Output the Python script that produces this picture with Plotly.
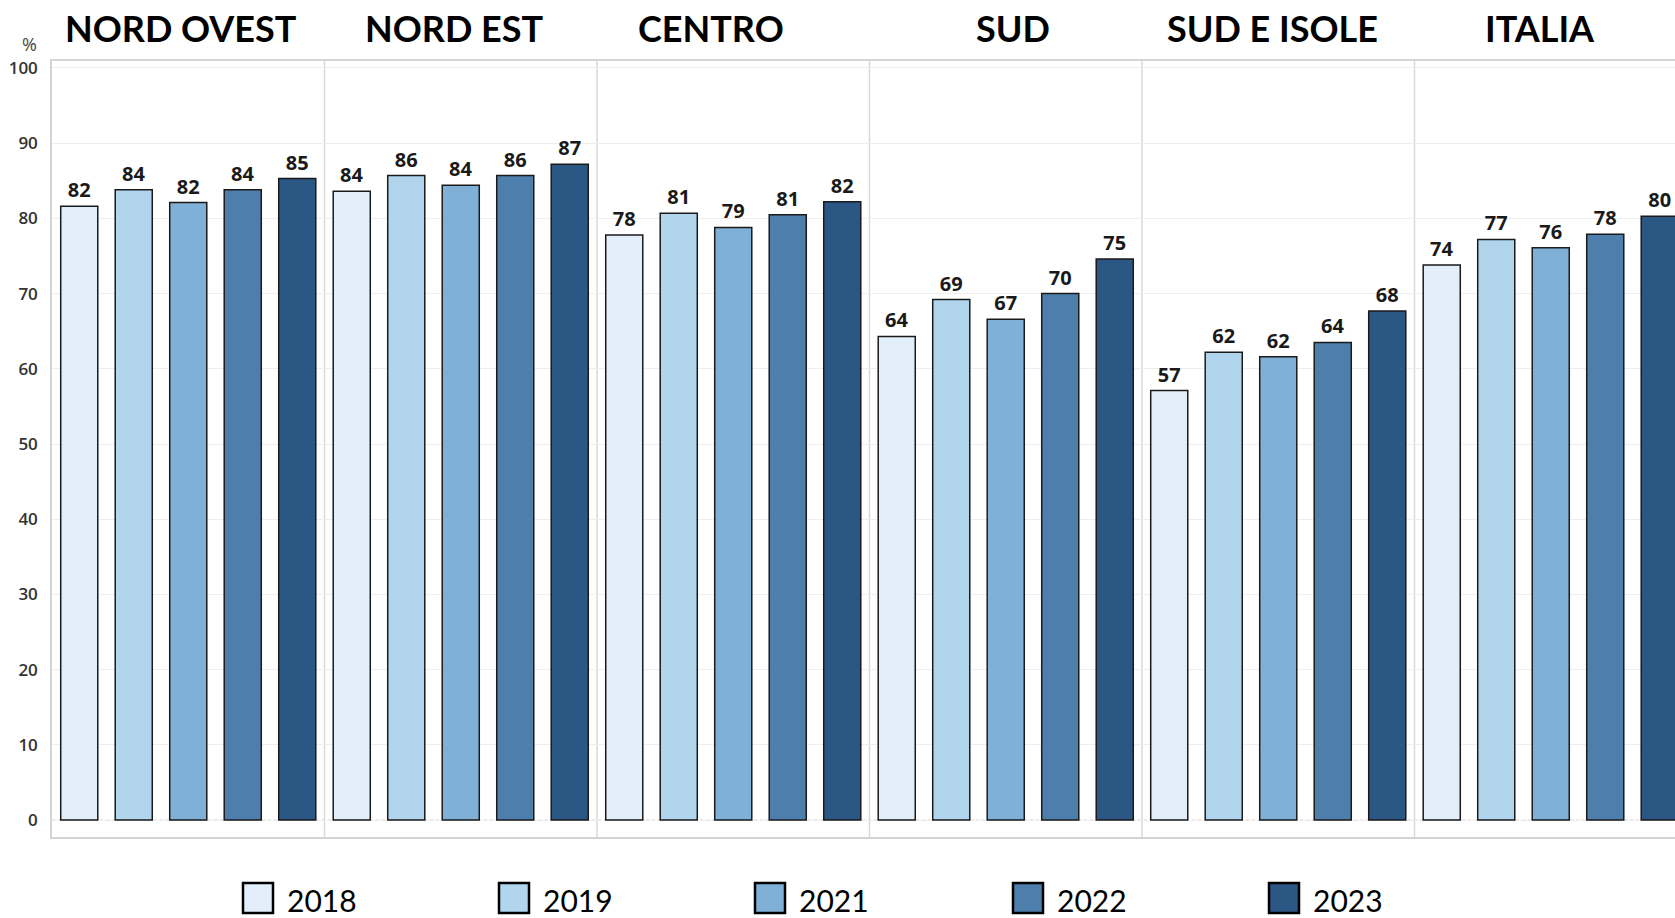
import plotly.graph_objects as go

# ---- data ----
regions = ["NORD OVEST", "NORD EST", "CENTRO", "SUD", "SUD E ISOLE", "ITALIA"]
years = ["2018", "2019", "2021", "2022", "2023"]
v2018 = [81.6, 83.6, 77.8, 64.3, 57.1, 73.8]
v2019 = [83.8, 85.7, 80.7, 69.2, 62.2, 77.2]
v2021 = [82.1, 84.4, 78.8, 66.6, 61.6, 76.1]
v2022 = [83.8, 85.7, 80.5, 70.0, 63.5, 77.9]
v2023 = [85.3, 87.2, 82.2, 74.6, 67.7, 80.3]
series = [v2018, v2019, v2021, v2022, v2023]
y_ticks = list(range(0, 101, 10))

colors = ["#e2effb", "#b0d5ec", "#80b0d6", "#4e7eac", "#2b5784"]

W, H = 1675, 918
ML, MR, MT, MB = 52, 0, 61, 81
PW = W - ML - MR
PH = H - MT - MB


def px_x(px):
    return (px - ML) / PW


def px_y(py):
    return (H - MB - py) / PH


n_years = len(years)
fig = go.Figure()
for j, (yr, vals) in enumerate(zip(years, series)):
    xs = [i * n_years + j for i in range(len(regions))]
    fig.add_trace(go.Bar(
        x=xs, y=vals, name=yr, width=0.68,
        marker=dict(color=colors[j], line=dict(color="#1a1a1a", width=1.5)),
        texttemplate="%{y:.0f}", textposition="outside",
        textfont=dict(family="Open Sans", size=20, color="#1a1a1a", weight="bold"),
        cliponaxis=False, showlegend=False,
    ))

# panel separators
for i in range(1, len(regions)):
    fig.add_shape(type="line", xref="x", yref="paper",
                  x0=i * n_years - 0.5, x1=i * n_years - 0.5, y0=0, y1=1,
                  line=dict(color="#d9d9d9", width=1.5), layer="below")

# dotted zero line
fig.add_shape(type="line", xref="paper", yref="y", x0=0, x1=1, y0=0, y1=0,
              line=dict(color="#cfcfcf", width=1, dash="dot"), layer="below")

# region titles
title_px = [181, 454, 711, 1013, 1272, 1540]
for name, cx in zip(regions, title_px):
    fig.add_annotation(x=px_x(cx), y=px_y(28), xref="paper", yref="paper",
                       text=name, showarrow=False, xanchor="center", yanchor="middle",
                       font=dict(family="Lato", size=36, color="#000000", weight="bold"))

# percent label
fig.add_annotation(x=px_x(29), y=px_y(44), xref="paper", yref="paper", text="%",
                   showarrow=False, xanchor="center", yanchor="middle",
                   font=dict(family="Open Sans", size=18, color="#444444"))

# legend (manual, large squares)
leg_left = [243, 499, 755, 1013, 1269]
for j, yr in enumerate(years):
    x0 = leg_left[j]
    fig.add_shape(type="rect", xref="paper", yref="paper",
                  x0=px_x(x0), x1=px_x(x0 + 30), y0=px_y(913), y1=px_y(883),
                  fillcolor=colors[j], line=dict(color="#000000", width=2.5))
    fig.add_annotation(x=px_x(x0 + 42), y=px_y(900), xref="paper", yref="paper",
                       text=yr, showarrow=False, xanchor="left", yanchor="middle",
                       font=dict(family="Lato", size=30, color="#000000"))

fig.update_layout(
    width=W, height=H,
    margin=dict(l=ML, r=MR, t=MT, b=MB, pad=0),
    plot_bgcolor="white", paper_bgcolor="white",
    barmode="overlay",
    showlegend=False,
    xaxis=dict(range=[-0.5, 29.28], showticklabels=False, ticks="", showgrid=False,
               zeroline=False, showline=True, mirror=True, linecolor="#d4d4d4", linewidth=1.5),
    yaxis=dict(range=[-2.26, 100.93], tickvals=y_ticks, showgrid=True, gridcolor="#eeeeee",
               gridwidth=1, zeroline=False, showline=True, linecolor="#d4d4d4", linewidth=1.5,
               ticks="", ticklabelstandoff=9,
               tickfont=dict(family="Open Sans", size=17, color="#333333", weight=600)),
)

fig.write_html("out.html", config={"displayModeBar": False},
               post_script="document.body.style.margin='0';")
